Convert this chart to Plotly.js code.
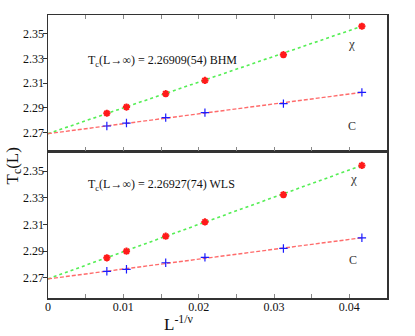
<!DOCTYPE html>
<html>
<head>
<meta charset="utf-8">
<script src="https://cdn.plot.ly/plotly-3.0.1.min.js"></script>
<style>
  html, body { margin: 0; padding: 0; background: #fff; }
  #plot { width: 415px; height: 336px; }
</style>
</head>
<body>
<div id="plot"></div>
<script>
// L^(-1/nu) for L = 128, 96, 64, 48, 32, 24
var xs = [0.0078125, 0.0104167, 0.015625, 0.0208333, 0.03125, 0.0416667];

// top panel (BHM)
var chiTop = [2.2856, 2.2906, 2.3014, 2.3121, 2.3329, 2.3559];
var cTop   = [2.2753, 2.2777, 2.2821, 2.2861, 2.2934, 2.3025];
// bottom panel (WLS)
var chiBot = [2.2851, 2.2901, 2.3013, 2.3120, 2.3324, 2.3543];
var cBot   = [2.2750, 2.2765, 2.2814, 2.2854, 2.2921, 2.3001];

// fit lines (end points)
var fitX      = [0, 0.0416667];
var fitChiTop = [2.2691, 2.3559];
var fitCTop   = [2.2691, 2.3025];
var fitChiBot = [2.2693, 2.3543];
var fitCBot   = [2.2693, 2.3001];

var serif = 'Liberation Serif, Times New Roman, serif';

function chiMarker() {
  return { symbol: 'asterisk-open', size: 6, color: '#ff1a1a', line: { color: '#ff1a1a', width: 2 } };
}
function cMarker() {
  return { symbol: 'cross-thin-open', size: 6, color: '#1a1aff', line: { color: '#1a1aff', width: 1.2 } };
}
function greenLine() { return { color: '#55ee55', width: 1.6, dash: 'dot' }; }
function redLine() { return { color: '#ff6b6b', width: 1.4, dash: '4px,2px' }; }

var data = [
  { x: fitX, y: fitChiTop, mode: 'lines', line: greenLine(), xaxis: 'x2', yaxis: 'y2' },
  { x: fitX, y: fitCTop, mode: 'lines', line: redLine(), xaxis: 'x2', yaxis: 'y2' },
  { x: xs, y: chiTop, mode: 'markers', marker: chiMarker(), xaxis: 'x2', yaxis: 'y2' },
  { x: xs, y: cTop, mode: 'markers', marker: cMarker(), xaxis: 'x2', yaxis: 'y2' },
  { x: fitX, y: fitChiBot, mode: 'lines', line: greenLine(), xaxis: 'x', yaxis: 'y' },
  { x: fitX, y: fitCBot, mode: 'lines', line: redLine(), xaxis: 'x', yaxis: 'y' },
  { x: xs, y: chiBot, mode: 'markers', marker: chiMarker(), xaxis: 'x', yaxis: 'y' },
  { x: xs, y: cBot, mode: 'markers', marker: cMarker(), xaxis: 'x', yaxis: 'y' }
];

function yax(dom, anchor) {
  return {
    domain: dom, anchor: anchor,
    range: [2.255, 2.365], tick0: 2.27, dtick: 0.02,
    ticks: 'outside', ticklen: 4, tickcolor: '#333',
    ticklabelstandoff: -4,
    showline: true, linecolor: '#333', linewidth: 1.5, mirror: true,
    showgrid: false, zeroline: false,
    tickfont: { family: serif, size: 12, color: '#111' }
  };
}

var layout = {
  width: 415, height: 336,
  margin: { l: 48, r: 28, t: 15, b: 38 },
  paper_bgcolor: '#fff', plot_bgcolor: '#fff',
  showlegend: false,
  xaxis: {
    anchor: 'y', range: [0, 0.045], dtick: 0.01, tick0: 0,
    ticks: 'inside', ticklen: 4, tickcolor: '#888',
    minor: { dtick: 0.005, ticks: 'inside', ticklen: 4, tickcolor: '#888' },
    ticklabelstandoff: -3,
    showline: true, linecolor: '#333', linewidth: 1.5, mirror: true,
    showgrid: false, zeroline: false,
    tickfont: { family: serif, size: 12, color: '#111' }
  },
  xaxis2: {
    anchor: 'y2', range: [0, 0.045], dtick: 0.005, tick0: 0,
    ticks: 'inside', ticklen: 4, tickcolor: '#888',
    showline: true, linecolor: '#333', linewidth: 1.5, mirror: 'ticks',
    showticklabels: false, showgrid: false, zeroline: false
  },
  yaxis: yax([0, 0.519], 'x'),
  yaxis2: yax([0.519, 1], 'x2'),
  annotations: [
    { xref: 'x2', yref: 'y2', x: 0.00503, y: 2.3275, xanchor: 'left', showarrow: false,
      text: 'T<sub>c</sub>(L→∞) = 2.26909(54) BHM', font: { family: serif, size: 12, color: '#111' } },
    { xref: 'x', yref: 'y', x: 0.00503, y: 2.3395, xanchor: 'left', showarrow: false,
      text: 'T<sub>c</sub>(L→∞) = 2.26927(74) WLS', font: { family: serif, size: 12, color: '#111' } },
    { xref: 'x2', yref: 'y2', x: 0.0403, y: 2.3423, showarrow: false, text: 'χ',
      font: { family: serif, size: 13, color: '#333' } },
    { xref: 'x2', yref: 'y2', x: 0.0403, y: 2.275, showarrow: false, text: 'C',
      font: { family: serif, size: 12, color: '#333' } },
    { xref: 'x', yref: 'y', x: 0.0405, y: 2.3446, showarrow: false, text: 'χ',
      font: { family: serif, size: 13, color: '#333' } },
    { xref: 'x', yref: 'y', x: 0.0405, y: 2.2834, showarrow: false, text: 'C',
      font: { family: serif, size: 12, color: '#333' } },
    { xref: 'paper', yref: 'paper', x: -0.1, y: 0.465, xanchor: 'center', yanchor: 'middle',
      textangle: -90, showarrow: false,
      text: 'T<sub>c</sub>(L)', font: { family: serif, size: 17, color: '#111' } },
    { xref: 'paper', yref: 'paper', x: 0.386, y: -0.088, xanchor: 'center', yanchor: 'middle',
      showarrow: false,
      text: 'L<sup>-1/ν</sup>', font: { family: serif, size: 17, color: '#111' } }
  ]
};

Plotly.newPlot('plot', data, layout, { displayModeBar: false, staticPlot: true });
</script>
</body>
</html>
